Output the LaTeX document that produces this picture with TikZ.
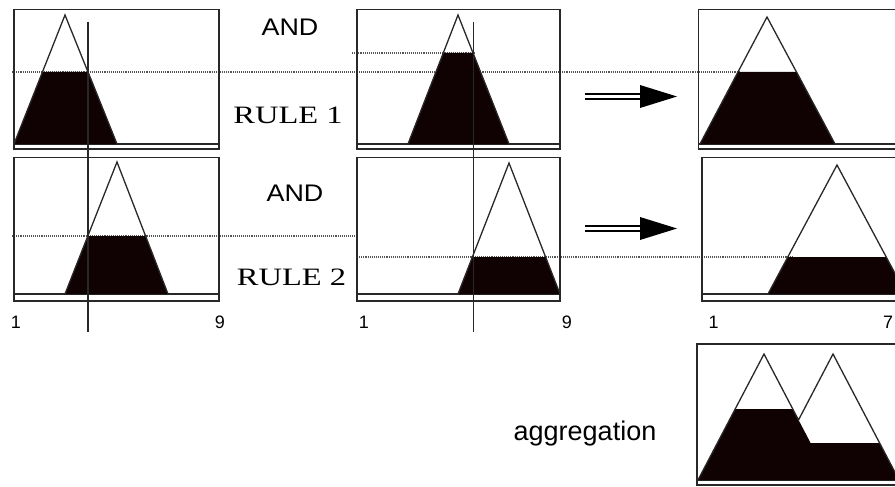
\documentclass[tikz,border=0pt]{standalone}
\usepackage{graphicx}
\usepackage{fontspec}
\setmainfont{Liberation Serif}
\setsansfont{Liberation Sans}
\definecolor{ink}{RGB}{40,40,40}
\definecolor{fillk}{RGB}{16,2,2}
\definecolor{dotc}{RGB}{85,85,85}
\begin{document}
\begin{tikzpicture}[x=1pt,y=-1pt,
  frame/.style={draw=ink,line width=1.5pt},
  axisline/.style={draw=ink,line width=1.3pt},
  mf/.style={draw=ink,line width=1.3pt,line join=miter},
  cut/.style={fill=fillk},
  level/.style={draw=dotc,line width=1.1pt,densely dotted},
  crisp/.style={draw=ink,line width=1.2pt},
  sanslbl/.style={font=\sffamily\fontsize{24}{28}\selectfont,anchor=base,inner sep=0pt},
  rulelbl/.style={font=\rmfamily\fontsize{25}{30}\selectfont,anchor=base,inner sep=0pt},
  numlbl/.style={font=\sffamily\fontsize{18}{20}\selectfont,anchor=base,inner sep=0pt},
  shaft/.style={draw=black,double=white,double distance=2.7pt,line width=2pt},
  head/.style={fill=black}
]
\useasboundingbox (0,0) rectangle (895,487);

% level (dotted) lines
\draw[level] (12,72) -- (740,72);
\draw[level] (352,53) -- (474,53);
\draw[level] (12,236) -- (358,236);
\draw[level] (357,257) -- (792,257);

% panel frames and axes
\draw[frame] (14,9.5) rectangle (219,149);
\draw[axisline] (14,144) -- (219,144);
\draw[frame] (357,9.5) rectangle (560,149);
\draw[axisline] (357,144) -- (560,144);
\draw[frame] (698.5,9.5) rectangle (915,149);
\draw[axisline] (698.5,144) -- (915,144);
\draw[frame] (14,157.5) rectangle (219,301);
\draw[axisline] (14,294) -- (219,294);
\draw[frame] (357,157.5) rectangle (560,301);
\draw[axisline] (357,294) -- (560,294);
\draw[frame] (702,157.5) rectangle (915,301);
\draw[axisline] (702,294) -- (915,294);
\draw[frame] (697,344) rectangle (915,485);
\draw[axisline] (697,480) -- (915,480);

% clipped (filled) parts
\fill[cut] (14,144) -- (42.5,72) -- (88.5,72) -- (117,144) -- cycle;
\fill[cut] (408,144) -- (443.6,53) -- (473.4,53) -- (509,144) -- cycle;
\fill[cut] (700,144) -- (738,72) -- (797,72) -- (835,144) -- cycle;
\fill[cut] (65,294) -- (87.6,236) -- (145.4,236) -- (168,294) -- cycle;
\fill[cut] (458,294) -- (472.4,257) -- (545.6,257) -- (560,294) -- cycle;
\fill[cut] (768,294) -- (788,257) -- (886,257) -- (906,294) -- cycle;
\fill[cut] (698,480) -- (735.2,409) -- (792.8,409) -- (810.6,443) -- (879.6,443) -- (899,480) -- cycle;

% membership functions
\draw[mf] (14,144) -- (65,15) -- (117,144);
\draw[mf] (408,144) -- (458,15) -- (509,144);
\draw[mf] (700,144) -- (767,17) -- (835,144);
\draw[mf] (65,294) -- (117,162) -- (168,294);
\draw[mf] (458,294) -- (509,163) -- (560,294);
\draw[mf] (768,294) -- (837,165) -- (906,294);
\draw[mf] (698,480) -- (764,354) -- (798.5,420) -- (833,354) -- (899,480);

% crisp inputs
\draw[crisp] (88,22) -- (88,332);
\draw[crisp] (473.5,22) -- (473.5,332);

% implication arrows
\coordinate (i1) at (585,96.5);
\coordinate (m1) at (642,96.5);
\coordinate (o1) at (677,96.5);
\draw[shaft] (i1) -- (m1);
\fill[head] (640,85) -- (o1) -- (640,108) -- cycle;
\coordinate (i2) at (585,228.5);
\coordinate (m2) at (642,228.5);
\coordinate (o2) at (677,228.5);
\draw[shaft] (i2) -- (m2);
\fill[head] (640,217) -- (o2) -- (640,240) -- cycle;

% labels
\node[sanslbl] (and1) at (290,36) {\scalebox{1.12}[1]{AND}};
\node[rulelbl] (rule1) at (288,123) {\scalebox{1.3}[1]{RULE 1}};
\node[sanslbl] (and2) at (295,201) {\scalebox{1.12}[1]{AND}};
\node[rulelbl] (rule2) at (291.5,285) {\scalebox{1.3}[1]{RULE 2}};
\node[sanslbl,font=\sffamily\fontsize{27}{30}\selectfont] (agg) at (585,440) {aggregation};

\node[numlbl] (n1a) at (16,328) {1};
\node[numlbl] (n9a) at (220,328) {9};
\node[numlbl] (n1b) at (364,328) {1};
\node[numlbl] (n9b) at (567,328) {9};
\node[numlbl] (n1c) at (713.5,328) {1};
\node[numlbl] (n7c) at (888,328) {7};
\end{tikzpicture}
\end{document}
